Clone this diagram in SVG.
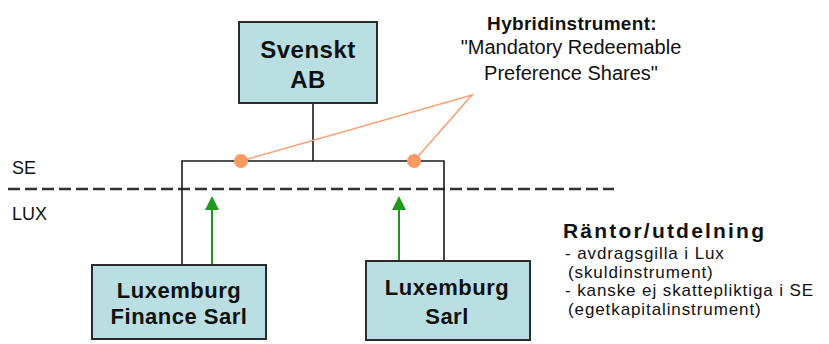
<svg xmlns="http://www.w3.org/2000/svg" width="829" height="344" viewBox="0 0 829 344">
  <style>
    .box { fill: #badfe2; stroke: #2b2b2b; stroke-width: 2; }
    .lbl { font-family: "Liberation Sans", Arial, sans-serif; font-weight: bold; font-size: 22px; letter-spacing: 0.5px; fill: #111; text-anchor: middle; }
    .big { font-size: 24px; }
    .txt { font-family: "Liberation Sans", Arial, sans-serif; font-size: 17px; letter-spacing: 0.9px; fill: #111; }
    .zone { font-size: 18px; letter-spacing: 0; }
    .note { font-size: 20px; letter-spacing: 0; text-anchor: middle; }
    .head { font-weight: bold; font-size: 19px; letter-spacing: 0.3px; text-anchor: middle; }
    .title { font-weight: bold; font-size: 21px; letter-spacing: 2.2px; }
    .wire { stroke: #1a1a1a; stroke-width: 1.6; fill: none; }
    .hyb { stroke: #f6a273; stroke-width: 1.6; fill: none; }
    .dot { fill: #f89a63; }
    .flow { stroke: #1d9a1d; stroke-width: 2; fill: none; }
    .head-arrow { fill: #1d9a1d; }
  </style>
  <rect width="829" height="344" fill="#ffffff"/>

  <!-- border between jurisdictions -->
  <g id="border">
    <line x1="8" y1="189" x2="614" y2="189" stroke="#333" stroke-width="2.6" stroke-dasharray="12 5"/>
    <text class="txt zone" x="12" y="174">SE</text>
    <text class="txt zone" x="12" y="220">LUX</text>
  </g>

  <!-- connectors -->
  <g id="connectors">
    <polyline class="wire" points="313,103 313,161"/>
    <polyline class="wire" points="182,265 182,161 444,161 444,261"/>
    <polyline class="hyb" points="241,161 472,95 414,161"/>
    <circle class="dot" cx="241" cy="161" r="7"/>
    <circle class="dot" cx="414" cy="161" r="7"/>
    <line class="flow" x1="212" y1="265" x2="212" y2="208"/>
    <polygon class="head-arrow" points="212,196 205,210 219,210"/>
    <line class="flow" x1="399" y1="261" x2="399" y2="208"/>
    <polygon class="head-arrow" points="399,196 392,210 406,210"/>
  </g>

  <g id="svenskt-ab">
    <rect class="box" x="239" y="22" width="138" height="81"/>
    <text class="lbl big" x="308" y="58">Svenskt</text>
    <text class="lbl big" x="308" y="88">AB</text>
  </g>

  <g id="lux-finance">
    <rect class="box" x="92" y="265" width="174" height="74"/>
    <text class="lbl" x="179" y="298">Luxemburg</text>
    <text class="lbl" x="179" y="324">Finance Sarl</text>
  </g>

  <g id="lux-sarl">
    <rect class="box" x="366" y="261" width="164" height="79"/>
    <text class="lbl" x="447" y="295">Luxemburg</text>
    <text class="lbl" x="447" y="324">Sarl</text>
  </g>

  <g id="hybrid-note">
    <text class="txt head" x="572" y="30">Hybridinstrument:</text>
    <text class="txt note" x="571" y="54">"Mandatory Redeemable</text>
    <text class="txt note" x="571" y="80">Preference Shares"</text>
  </g>

  <g id="interest-note">
    <text class="txt title" x="563" y="238">Räntor/utdelning</text>
    <text class="txt" x="565" y="259">- avdragsgilla i Lux</text>
    <text class="txt" x="568" y="277.5">(skuldinstrument)</text>
    <text class="txt" x="565" y="296">- kanske ej skattepliktiga i SE</text>
    <text class="txt" x="568" y="314.5">(egetkapitalinstrument)</text>
  </g>
</svg>
